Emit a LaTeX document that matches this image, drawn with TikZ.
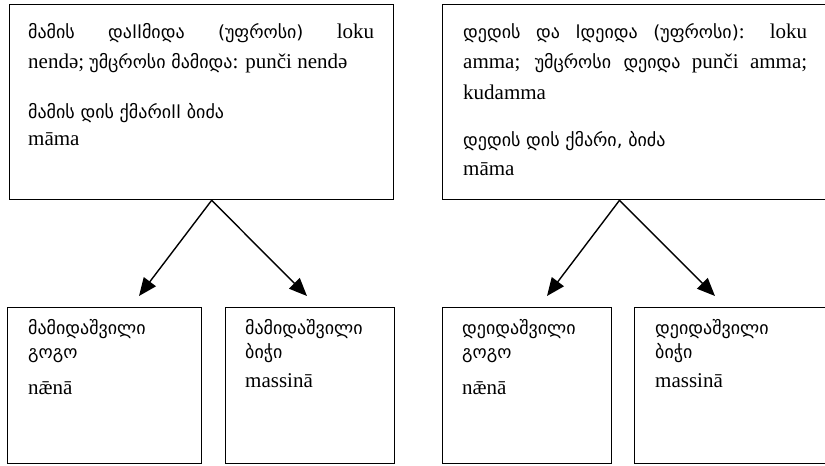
\documentclass[tikz,border=0pt]{standalone}
\usepackage{fontspec}
\setmainfont{Liberation Serif}
\newfontfamily\geofont{DejaVu Sans}
\usetikzlibrary{arrows.meta,calc}
\newcommand\geo{\geofont\fontsize{18}{21}\selectfont}
\newcommand\lat{\rmfamily\fontsize{21}{25}\selectfont}
\tikzset{
  famblock/.style={draw,line width=1.3pt,anchor=north west,inner sep=0pt,minimum height=195pt},
  kidblock/.style={draw,line width=1.3pt,anchor=north west,inner sep=0pt,minimum height=156pt},
  txt/.style={anchor=base west,inner sep=0pt,font=\lat},
  kin/.style={-{Triangle[length=18pt,width=15pt]},line width=1.4pt}
}
\begin{document}
\begin{tikzpicture}[x=1pt,y=1pt]
		\useasboundingbox (0,0) rectangle (825,-466);
		% top blocks
		\node[famblock,minimum width=384pt] (fatherside) at (9,-4) {};
		\node[famblock,minimum width=388pt] (motherside) at (442,-4) {};
		% cousin blocks
		\node[kidblock,minimum width=194pt] (fgirl) at (7,-307) {};
		\node[kidblock,minimum width=169pt] (fboy) at (225,-307) {};
		\node[kidblock,minimum width=169pt] (mgirl) at (442,-307) {};
		\node[kidblock,minimum width=194pt] (mboy) at (634,-307) {};
		% texts, father's side
		\node[txt] (f1) at (28,-38) {\makebox[346pt][s]{\geo მამის დაllმიდა (უფროსი) \lat loku}};
		\node[txt] (f2) at (28,-68) {nendə; {\geo უმცროსი მამიდა}: punči nendə};
		\node[txt] (f3) at (28,-118) {\geo მამის დის ქმარიll ბიძა};
		\node[txt] (f4) at (28,-145) {māma};
		% texts, mother's side
		\node[txt] (m1) at (463,-38) {\makebox[344pt][s]{\geo დედის და lდეიდა (უფროსი)\lat: loku}};
		\node[txt] (m2) at (463,-68) {\makebox[344pt][s]{amma; {\geo უმცროსი დეიდა} punči amma;}};
		\node[txt] (m3) at (463,-99) {kudamma};
		\node[txt] (m4) at (463,-146) {\geo დედის დის ქმარი, ბიძა};
		\node[txt] (m5) at (463,-175) {māma};
		% cousins
		\foreach \x/\who/\word/\sex/\said/\low in {28/მამიდაშვილი/a/გოგო/nǣnā/394,245/მამიდაშვილი/b/ბიჭი/massinā/387,462/დეიდაშვილი/c/გოგო/nǣnā/394,655/დეიდაშვილი/d/ბიჭი/massinā/387}{
			\node[txt] (\word1) at (\x,-334) {\geo\who};
			\node[txt] (\word2) at (\x,-358) {\geo\sex};
			\node[txt] (\word3) at (\x,-\low) {\said};
		}
		% arrows
		\coordinate (tipa) at (139,-296);
		\coordinate (tipb) at (307,-296);
		\coordinate (tipc) at (547,-296);
		\coordinate (tipd) at (715,-296);
		\draw[kin] ($(fatherside.south west)!0.526!(fatherside.south east)$) -- (tipa);
		\draw[kin] ($(fatherside.south west)!0.526!(fatherside.south east)$) -- (tipb);
		\draw[kin] ($(motherside.south west)!0.456!(motherside.south east)$) -- (tipc);
		\draw[kin] ($(motherside.south west)!0.456!(motherside.south east)$) -- (tipd);
\end{tikzpicture}
\end{document}
